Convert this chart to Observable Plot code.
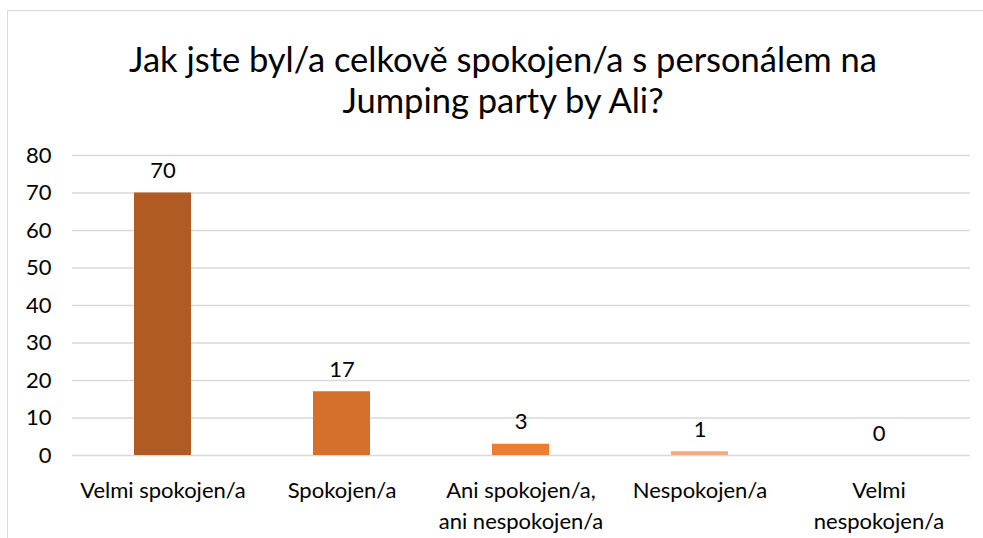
<!DOCTYPE html>
<html>
<head>
<meta charset="utf-8">
<script src="https://cdn.jsdelivr.net/npm/d3@7"></script>
<script src="https://cdn.jsdelivr.net/npm/@observablehq/plot@0.6"></script>
<style>
  html, body { margin: 0; padding: 0; background: #fff; overflow: hidden; }
  #wrap { position: relative; width: 983px; height: 538px; }
  #frame { position: absolute; left: 7px; top: 10px; width: 1000px; height: 600px; border: 1px solid #d9d9d9; box-sizing: border-box; }
  #title { position: absolute; left: 7px; width: 992px; top: 38px; text-align: center; font-family: Lato, sans-serif; font-size: 34.5px; line-height: 41px; color: #000; }
  #chart { position: absolute; left: 0; top: 0; }
</style>
</head>
<body>
<div id="wrap">
  <div id="frame"></div>
  <div id="title">Jak jste byl/a celkově spokojen/a s personálem na<br>Jumping party by Ali?</div>
  <div id="chart"></div>
</div>
<script>
const categories = ["Velmi spokojen/a", "Spokojen/a", "Ani spokojen/a, ani nespokojen/a", "Nespokojen/a", "Velmi nespokojen/a"];
const tickLabels = ["Velmi spokojen/a", "Spokojen/a", "Ani spokojen/a,\nani nespokojen/a", "Nespokojen/a", "Velmi\nnespokojen/a"];
const values = [70, 17, 3, 1, 0];
const colors = ["#b05b24", "#d4702c", "#ed7d31", "#f3aa84", "#f8cbad"];
const yTicks = [0, 10, 20, 30, 40, 50, 60, 70, 80];

const data = categories.map((c, i) => ({category: c, value: values[i], color: colors[i]}));
const labelOf = new Map(categories.map((c, i) => [c, tickLabels[i]]));

const chart = Plot.plot({
  width: 983,
  height: 538,
  marginTop: 155,
  marginBottom: 83,
  marginLeft: 72,
  marginRight: 13,
  style: {fontFamily: "Lato, sans-serif", fontSize: "22px", color: "#000", background: "transparent", overflow: "visible"},
  x: {domain: categories, paddingInner: 0.68, paddingOuter: 0.34, label: null},
  y: {domain: [0, 80], ticks: yTicks, label: null},
  marks: [
    Plot.gridY(yTicks, {stroke: "#d9d9d9", strokeOpacity: 1, strokeWidth: 1.5}),
    Plot.barY(data, {x: "category", y: "value", fill: "color"}),
    Plot.text(data, {x: "category", y: "value", text: d => String(d.value), dy: -22, fontSize: 22, fill: "#000"}),
    Plot.axisY({ticks: yTicks, tickSize: 0, tickPadding: 21, label: null, fontSize: 22}),
    Plot.axisX({tickSize: 0, tickPadding: 21, label: null, fontSize: 22, lineHeight: 1.4, tickFormat: d => labelOf.get(d)})
  ]
});
document.getElementById("chart").appendChild(chart);
</script>
</body>
</html>
